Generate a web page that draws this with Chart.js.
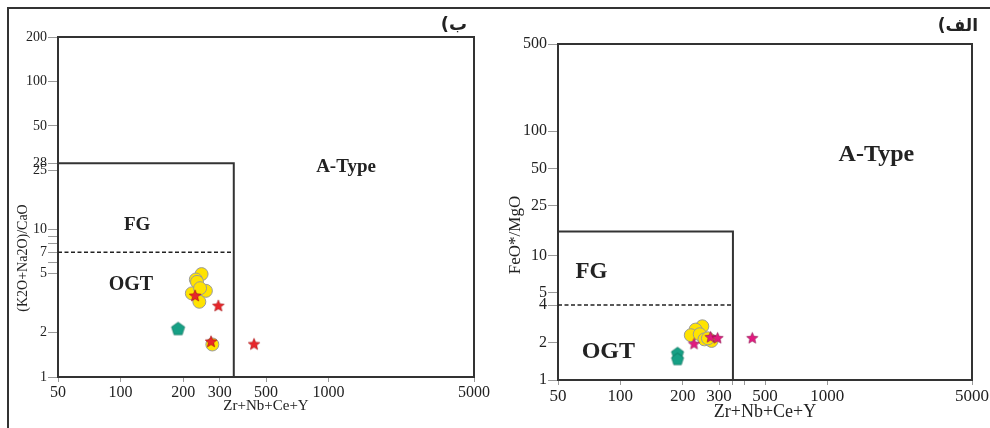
<!DOCTYPE html>
<html>
<head>
<meta charset="utf-8">
<script src="https://cdn.jsdelivr.net/npm/chart.js@4.4.1/dist/chart.umd.min.js"></script>
<style>
    body { margin: 0; background: #fff; }
    #wrap { position: relative; width: 990px; height: 428px; overflow: hidden; }
    canvas { position: absolute; top: 0; }
    #c_b { left: 0; }
    #c_a { left: 495px; }
    .frame { position: absolute; background: #333; z-index: 5; }
</style>
</head>
<body>
<div id="wrap">
    <canvas id="c_b" width="495" height="428"></canvas>
    <canvas id="c_a" width="495" height="428"></canvas>
    <div class="frame" style="left:7px;top:7px;width:983px;height:1.5px;"></div>
    <div class="frame" style="left:7px;top:7px;width:1.5px;height:421px;"></div>
</div>
<script>
// ---- panel ب : (K2O+Na2O)/CaO vs Zr+Nb+Ce+Y ----
var b_circle_x = [245, 230, 233, 257, 220, 239, 241, 276];
var b_circle_y = [4.97, 4.57, 4.4, 3.83, 3.68, 3.23, 3.99, 1.66];
var b_star_x = [228, 295, 272, 438];
var b_star_y = [3.53, 3.02, 1.73, 1.66];
var b_pent_x = [189];
var b_pent_y = [2.11];
var b_box_x = [50, 350, 350];      // FG / OGT field
var b_box_y = [28, 28, 1];
var b_dash_x = [50, 350];
var b_dash_y = [7, 7];
var b_xticks = [50, 100, 200, 300, 500, 1000, 5000];
var b_xlabels = [50, 100, 200, 300, 500, 1000, 5000];
var b_yticks = [1, 2, 5, 6, 7, 8, 9, 10, 25, 28, 50, 100, 200];
var b_ylabels = [1, 2, 5, 7, 10, 25, 28, 50, 100, 200];

// ---- panel الف : FeO*/MgO vs Zr+Nb+Ce+Y ----
var a_circle_x = [249, 231, 219, 242, 255, 276, 265];
var a_circle_y = [2.70, 2.54, 2.29, 2.33, 2.12, 2.06, 2.16];
var a_star_x = [227, 273, 295, 434];
var a_star_y = [1.94, 2.20, 2.16, 2.16];
var a_pent_x = [189, 189];
var a_pent_y = [1.63, 1.46];
var a_box_x = [50, 350, 350];
var a_box_y = [15.6, 15.6, 1];
var a_dash_x = [50, 350];
var a_dash_y = [4, 4];
var a_xticks = [50, 100, 200, 300, 350, 400, 500, 1000, 5000];
var a_xlabels = [50, 100, 200, 300, 500, 1000, 5000];
var a_yticks = [1, 2, 4, 5, 10, 25, 50, 100, 500];
var a_ylabels = [1, 2, 4, 5, 10, 25, 50, 100, 500];

var SERIF = "'Liberation Serif', 'Times New Roman', serif";

function pts(xs, ys) {
    var out = [];
    for (var i = 0; i < xs.length; i++) out.push({x: xs[i], y: ys[i]});
    return out;
}

// filled marker images (chart.js has no filled star / pentagon)
function polyImage(n, r, inner, color, edge) {
    var s = Math.ceil(r * 2 + 3);
    var c = document.createElement('canvas');
    c.width = s; c.height = s;
    var g = c.getContext('2d');
    var k = inner ? n * 2 : n;
    g.beginPath();
    for (var i = 0; i < k; i++) {
        var rad = (inner && i % 2 == 1) ? r * inner : r;
        var ang = -Math.PI / 2 + i * 2 * Math.PI / k;
        g.lineTo(s / 2 + rad * Math.cos(ang), s / 2 + rad * Math.sin(ang));
    }
    g.closePath();
    g.fillStyle = color;
    g.fill();
    g.strokeStyle = edge;
    g.lineWidth = 0.8;
    g.stroke();
    return c;
}

var diagramPlugin = {
    id: 'diagram',
    beforeDatasetsDraw: function (chart) {
        var a = chart.chartArea, ctx = chart.ctx;
        ctx.save();
        ctx.strokeStyle = '#333';
        ctx.lineWidth = 2;
        ctx.strokeRect(a.left, a.top, a.right - a.left, a.bottom - a.top);
        ctx.restore();
    },
    afterDraw: function (chart, args, o) {
        var ctx = chart.ctx, sx = chart.scales.x, sy = chart.scales.y;
        ctx.save();
        ctx.fillStyle = '#222';
        ctx.textAlign = 'center';
        ctx.textBaseline = 'middle';
        o.fields.forEach(function (f) {
            ctx.font = 'bold ' + f.size + 'px ' + SERIF;
            ctx.fillText(f.text, sx.getPixelForValue(f.x), sy.getPixelForValue(f.y));
        });
        // y axis title
        ctx.save();
        ctx.translate(o.ytitle.x, o.ytitle.y);
        ctx.rotate(-Math.PI / 2);
        ctx.font = o.ytitle.size + 'px ' + SERIF;
        ctx.fillText(o.ytitle.text, 0, 0);
        ctx.restore();
        // panel letter, written in visual order (paren on the left)
        ctx.direction = 'ltr';
        ctx.textAlign = 'right';
        ctx.font = 'bold ' + o.panel.size + "px 'DejaVu Sans', sans-serif";
        ctx.fillText(o.panel.text, o.panel.x, o.panel.y);
        ctx.restore();
    }
};

function logAxis(min, max, ticks, labels, fontSize, tickLen, fitKey, fitVal, title) {
    var ax = {
        type: 'logarithmic',
        min: min,
        max: max,
        afterBuildTicks: function (scale) {
            scale.ticks = ticks.map(function (v) { return {value: v}; });
        },
        afterFit: function (scale) { scale[fitKey] = fitVal; },
        grid: {drawOnChartArea: false, color: '#999', lineWidth: 1, tickLength: tickLen},
        border: {display: true, color: '#333', width: 2},
        ticks: {
            autoSkip: false,
            maxRotation: 0,
            padding: 1,
            color: '#222',
            font: {family: SERIF, size: fontSize},
            callback: function (v) { return labels.indexOf(v) >= 0 ? String(v) : ''; }
        }
    };
    if (title) ax.title = title;
    return ax;
}

function makeChart(id, d) {
    var ctx = document.getElementById(id).getContext('2d');
    return new Chart(ctx, {
        type: 'scatter',
        data: {
            datasets: [
                {data: pts(d.sx, d.sy), pointStyle: d.star, pointRadius: 6, pointHoverRadius: 6},
                {data: pts(d.px, d.py), pointStyle: d.pent, pointRadius: 7, pointHoverRadius: 7},
                {data: pts(d.cx, d.cy), pointStyle: 'circle', pointRadius: 6.5, backgroundColor: '#FFE300',
                    borderColor: '#9a9a9a', borderWidth: 1},
                {data: pts(d.dx, d.dy), showLine: true, pointRadius: 0, borderColor: '#222', borderWidth: 1.5,
                    borderDash: [4, 2.5], fill: false},
                {data: pts(d.bx, d.by), showLine: true, pointRadius: 0, borderColor: '#333', borderWidth: 2,
                    fill: false}
            ]
        },
        options: {
            responsive: false,
            animation: false,
            events: [],
            layout: {padding: d.pad},
            plugins: {
                legend: {display: false},
                tooltip: {enabled: false},
                diagram: d.deco
            },
            scales: {
                x: logAxis(50, 5000, d.xticks, d.xlabels, d.xfont, 5, 'height', d.xh, {
                    display: true, text: 'Zr+Nb+Ce+Y', color: '#222',
                    font: {family: SERIF, size: d.xtfont}, padding: {top: 0, bottom: d.xtpad}
                }),
                y: logAxis(1, d.ymax, d.yticks, d.ylabels, d.yfont, 10, 'width', d.yw)
            }
        },
        plugins: [diagramPlugin]
    });
}

makeChart('c_b', {
    cx: b_circle_x, cy: b_circle_y, sx: b_star_x, sy: b_star_y, px: b_pent_x, py: b_pent_y,
    bx: b_box_x, by: b_box_y, dx: b_dash_x, dy: b_dash_y,
    xticks: b_xticks, xlabels: b_xlabels, yticks: b_yticks, ylabels: b_ylabels, ymax: 200,
    star: polyImage(5, 6.2, 0.45, '#E8262B', 'rgba(150,0,0,0.6)'),
    pent: polyImage(5, 7, 0, '#16A085', 'rgba(0,90,70,0.6)'),
    pad: {top: 37, right: 21, bottom: 0, left: 0},
    yw: 58, xh: 51, xfont: 16, yfont: 14, xtfont: 15, xtpad: 13,
    deco: {
        fields: [
            {text: 'A-Type', x: 1213, y: 26.2, size: 19},
            {text: 'FG', x: 120, y: 10.6, size: 19},
            {text: 'OGT', x: 112, y: 4.18, size: 20}
        ],
        ytitle: {text: '(K2O+Na2O)/CaO', x: 23, y: 258, size: 14},
        panel: {text: '(ب', x: 467, y: 25, size: 18}
    }
});

makeChart('c_a', {
    cx: a_circle_x, cy: a_circle_y, sx: a_star_x, sy: a_star_y, px: a_pent_x, py: a_pent_y,
    bx: a_box_x, by: a_box_y, dx: a_dash_x, dy: a_dash_y,
    xticks: a_xticks, xlabels: a_xlabels, yticks: a_yticks, ylabels: a_ylabels, ymax: 500,
    star: polyImage(5, 6, 0.45, '#E2197F', 'rgba(120,0,60,0.6)'),
    pent: polyImage(5, 6.5, 0, '#16A085', 'rgba(0,90,70,0.6)'),
    pad: {top: 44, right: 12, bottom: 0, left: 0},
    yw: 63, xh: 48, xfont: 17, yfont: 16, xtfont: 18, xtpad: 5,
    deco: {
        fields: [
            {text: 'A-Type', x: 1726, y: 64.3, size: 24},
            {text: 'FG', x: 72.6, y: 7.31, size: 23},
            {text: 'OGT', x: 87.5, y: 1.675, size: 24}
        ],
        ytitle: {text: 'FeO*/MgO', x: 21, y: 235, size: 17},
        panel: {text: '(الف', x: 483, y: 27, size: 17}
    }
});
</script>
</body>
</html>
